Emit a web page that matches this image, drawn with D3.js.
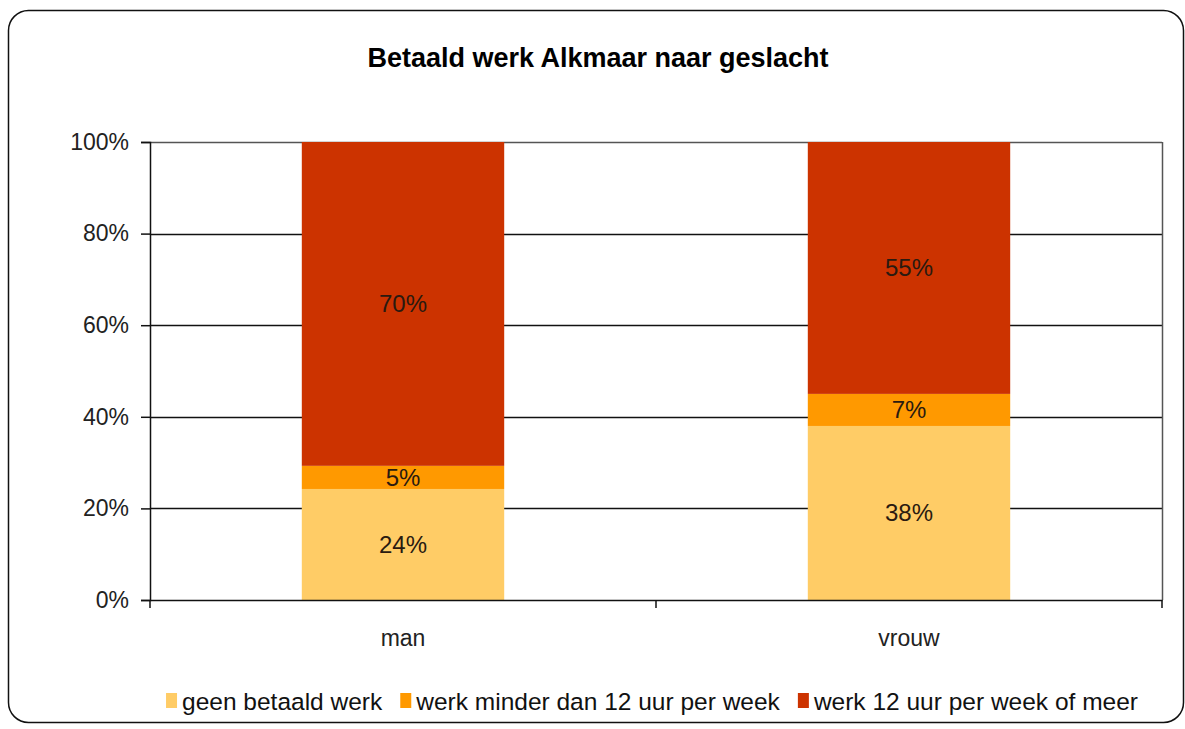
<!DOCTYPE html>
<html>
<head>
<meta charset="utf-8">
<script src="https://cdn.jsdelivr.net/npm/d3@7"></script>
<style>
  body { margin: 0; background: #fff; }
  text { font-family: "Liberation Sans", Arial, sans-serif; }
</style>
</head>
<body>
<svg id="chart" width="1185" height="729"></svg>
<script>
// data
var categories = ["man", "vrouw"];
var seriesNames = ["geen betaald werk", "werk minder dan 12 uur per week", "werk 12 uur per week of meer"];
var seriesColors = ["#FFCC66", "#FF9900", "#CC3300"];
var geenWerk = [24, 38];
var minder12 = [5, 7];
var meer12 = [70, 55];
var yTicks = [0, 20, 40, 60, 80, 100];

var margin = {"top": 142, "right": 23, "bottom": 129, "left": 150};
var width = 1185;
var height = 729;

var svg = d3.select('#chart');

// outer frame
svg.append('rect')
  .attr('x', 8.5).attr('y', 10.5)
  .attr('width', 1175).attr('height', 712)
  .attr('rx', 20).attr('ry', 20)
  .attr('fill', 'none')
  .attr('stroke', '#111')
  .attr('stroke-width', 1.5);

// title
svg.append('text')
  .attr('x', 598).attr('y', 67)
  .attr('text-anchor', 'middle')
  .style('font-size', '27px')
  .style('font-weight', 'bold')
  .text('Betaald werk Alkmaar naar geslacht');

// scales
var xScale = d3.scaleBand()
  .domain(categories)
  .range([margin.left, width - margin.right])
  .paddingInner(0.6).paddingOuter(0.3);
var yScale = d3.scaleLinear()
  .domain([0, 100])
  .range([height - margin.bottom, margin.top]);

// normalised stacks (100% stacked)
var rows = categories.map(function(c, i){
  var tot = geenWerk[i] + minder12[i] + meer12[i];
  return {cat: c, vals: [geenWerk[i], minder12[i], meer12[i]], tot: tot};
});

// grid
svg.append('g').selectAll('line')
  .data(yTicks.filter(function(d){ return d > 0; }))
  .enter().append('line')
  .attr('x1', margin.left).attr('x2', width - margin.right)
  .attr('y1', function(d){ return Math.round(yScale(d)) + 0.5; })
  .attr('y2', function(d){ return Math.round(yScale(d)) + 0.5; })
  .attr('stroke', function(d){ return d === 100 ? '#555' : '#111'; })
  .attr('stroke-width', 1.5);

// right frame of plot
svg.append('line')
  .attr('x1', width - margin.right + 0.5).attr('x2', width - margin.right + 0.5)
  .attr('y1', yScale(100)).attr('y2', yScale(0))
  .attr('stroke', '#555').attr('stroke-width', 1.5);

// bars
rows.forEach(function(r){
  var cum = 0;
  r.vals.forEach(function(v, k){
    var y0 = cum / r.tot * 100;
    cum += v;
    var y1 = cum / r.tot * 100;
    svg.append('rect')
      .attr('x', xScale(r.cat))
      .attr('y', yScale(y1))
      .attr('width', xScale.bandwidth())
      .attr('height', yScale(y0) - yScale(y1))
      .attr('fill', seriesColors[k]);
    svg.append('text')
      .attr('x', xScale(r.cat) + xScale.bandwidth() / 2)
      .attr('y', (yScale(y0) + yScale(y1)) / 2)
      .attr('dy', '0.35em')
      .attr('text-anchor', 'middle')
      .style('font-size', '24px')
      .attr('fill', '#2a1a10')
      .text(v + '%');
  });
});

// y axis
var yAxis = d3.axisLeft(yScale)
  .tickValues(yTicks)
  .tickSize(9)
  .tickPadding(12)
  .tickFormat(function(d){ return d + '%'; });
var gy = svg.append('g')
  .attr('transform', 'translate(' + [margin.left, 0] + ')')
  .call(yAxis);
gy.select('.domain').attr('stroke', '#111').attr('stroke-width', 1.5);
gy.selectAll('.tick line').attr('stroke', '#111').attr('stroke-width', 1.5);
gy.selectAll('text').style('font-size', '23px').attr('fill', '#222')
  .style('font-family', '"Liberation Sans", Arial, sans-serif');

// x axis
var xAxis = d3.axisBottom(xScale).tickSize(0).tickPadding(30);
var gx = svg.append('g')
  .attr('transform', 'translate(' + [0, height - margin.bottom] + ')')
  .call(xAxis);
gx.select('.domain').attr('stroke', '#111').attr('stroke-width', 1.5);
gx.selectAll('text').style('font-size', '23px').attr('fill', '#222')
  .style('font-family', '"Liberation Sans", Arial, sans-serif');
// category boundary ticks
var bounds = [margin.left, (margin.left + width - margin.right) / 2, width - margin.right];
gx.selectAll('.bound').data(bounds).enter().append('line')
  .attr('x1', function(d){ return d; }).attr('x2', function(d){ return d; })
  .attr('y1', 0).attr('y2', 8)
  .attr('stroke', '#111').attr('stroke-width', 1.5);

// legend
var legend = svg.append('g');
var lx = 0;
seriesNames.forEach(function(name, k){
  var item = legend.append('g').attr('transform', 'translate(' + lx + ',0)');
  item.append('rect')
    .attr('x', 0).attr('y', -17)
    .attr('width', 11).attr('height', 15)
    .attr('fill', seriesColors[k]);
  var t = item.append('text')
    .attr('x', 16).attr('y', 0)
    .style('font-size', '24.5px')
    .attr('fill', '#111')
    .text(name);
  lx += 16 + t.node().getComputedTextLength() + 18;
});
var legendW = lx - 18;
legend.attr('transform', 'translate(' + (652 - legendW / 2) + ',710)');
</script>
</body>
</html>
